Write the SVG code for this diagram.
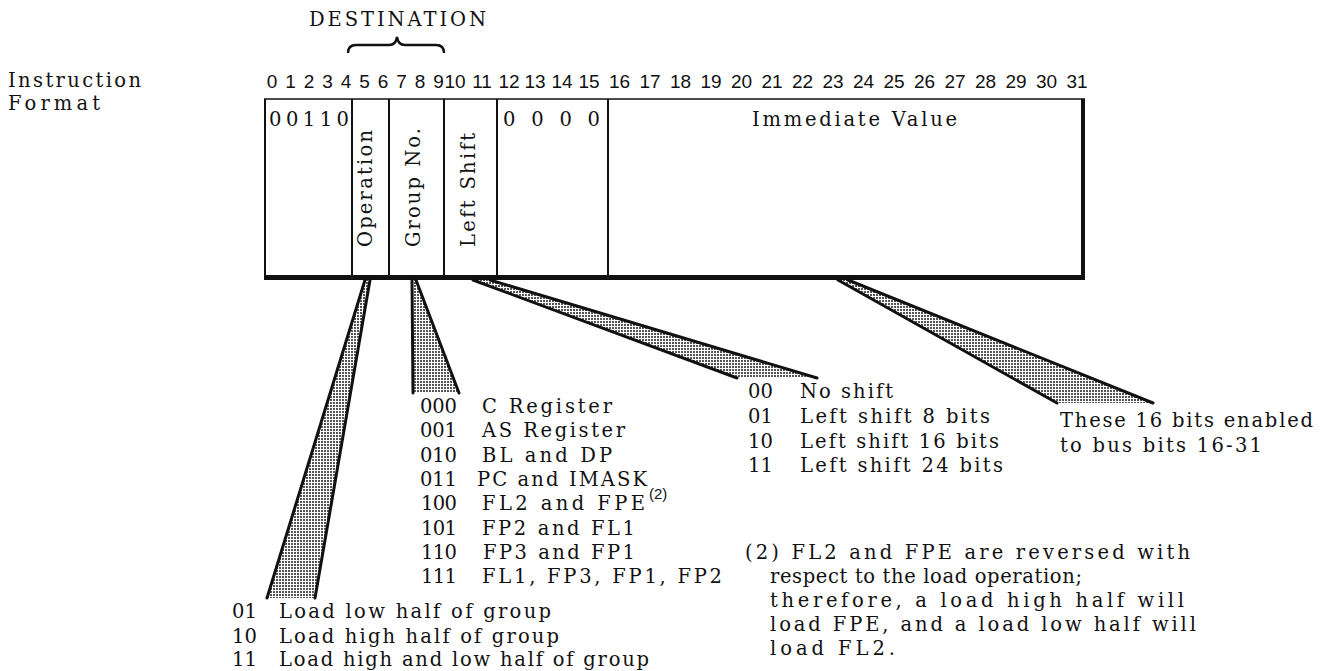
<svg xmlns="http://www.w3.org/2000/svg" width="1330" height="671" viewBox="0 0 1330 671">
<style>
.t{font-family:"DejaVu Serif","Liberation Serif",serif;font-size:19.5px;fill:#111}
.n{font-family:"Liberation Sans",Arial,sans-serif;font-size:19px;fill:#111;text-anchor:middle}
.s{font-family:"Liberation Sans",Arial,sans-serif;font-size:15px;fill:#111}
.ln{stroke:#111;fill:none}
.edge{stroke:#111;stroke-width:3;fill:none;stroke-linecap:round}
.w{fill:url(#dots);stroke:none}
</style>
<defs>
<pattern id="dots" width="3" height="3" patternUnits="userSpaceOnUse">
<rect width="3" height="3" fill="#fff"/>
<rect width="2" height="2" fill="#555"/>
</pattern>
</defs>
<rect width="1330" height="671" fill="#fff"/>

<g id="destination">
<text class="t" x="309" y="26" font-size="20.5" textLength="177" lengthAdjust="spacing">DESTINATION</text>
<path class="ln" stroke-width="2.5" d="M348,53 Q348,45 356,45 L389,45 Q396,45 397,37 Q398,45 405,45 L436,45 Q444,45 444,53"/>
</g>

<g id="label">
<text class="t" x="8" y="87" textLength="133" lengthAdjust="spacing">Instruction</text>
<text class="t" x="8" y="110" textLength="92" lengthAdjust="spacing">Format</text>
</g>

<g id="bitnumbers">
<text class="n" y="88"><tspan x="272">0</tspan><tspan x="290.5">1</tspan><tspan x="309">2</tspan><tspan x="327.5">3</tspan><tspan x="346">4</tspan><tspan x="364.5">5</tspan><tspan x="383">6</tspan><tspan x="401.5">7</tspan><tspan x="420">8</tspan><tspan x="438.5">9</tspan><tspan x="455">10</tspan><tspan x="482">11</tspan><tspan x="509">12</tspan><tspan x="535">13</tspan><tspan x="562">14</tspan><tspan x="589">15</tspan><tspan x="619.5">16</tspan><tspan x="650">17</tspan><tspan x="680.5">18</tspan><tspan x="711">19</tspan><tspan x="741.5">20</tspan><tspan x="772">21</tspan><tspan x="802.5">22</tspan><tspan x="833">23</tspan><tspan x="863.5">24</tspan><tspan x="894">25</tspan><tspan x="924.5">26</tspan><tspan x="955">27</tspan><tspan x="985.5">28</tspan><tspan x="1016">29</tspan><tspan x="1046.5">30</tspan><tspan x="1077">31</tspan></text>
</g>

<g id="format-box">
<line class="ln" stroke-width="1.5" x1="264" y1="99" x2="1085" y2="99"/>
<line class="ln" stroke-width="2" x1="265" y1="99" x2="265" y2="278"/>
<line class="ln" stroke-width="4" x1="1083" y1="99" x2="1083" y2="278"/>
<rect x="264" y="275" width="821" height="5" fill="#111"/>
<line class="ln" stroke-width="2" x1="352" y1="99" x2="352" y2="277"/>
<line class="ln" stroke-width="2" x1="389" y1="99" x2="389" y2="277"/>
<line class="ln" stroke-width="2" x1="444" y1="99" x2="444" y2="277"/>
<line class="ln" stroke-width="2" x1="497" y1="99" x2="497" y2="277"/>
<line class="ln" stroke-width="2" x1="608" y1="99" x2="608" y2="277"/>
</g>

<g id="field-opcode">
<text class="t" x="269" y="126" textLength="80" lengthAdjust="spacing">00110</text>
</g>
<g id="field-operation">
<text class="t" transform="translate(372,247) rotate(-90)" x="0" y="0" textLength="117" lengthAdjust="spacing">Operation</text>
</g>
<g id="field-group">
<text class="t" transform="translate(420,247) rotate(-90)" x="0" y="0" textLength="119" lengthAdjust="spacing">Group No.</text>
</g>
<g id="field-leftshift">
<text class="t" transform="translate(475,247) rotate(-90)" x="0" y="0" textLength="114" lengthAdjust="spacing">Left Shift</text>
</g>
<g id="field-zero">
<text class="t" x="503" y="126" textLength="97" lengthAdjust="spacing">0 0 0 0</text>
</g>
<g id="field-immediate">
<text class="t" x="752" y="126" textLength="205" lengthAdjust="spacing">Immediate Value</text>
</g>

<g id="connectors">
<polygon class="w" points="365,280 370,280 315,598 267,598"/>
<line class="edge" x1="365" y1="280" x2="267" y2="598"/>
<line class="edge" x1="370" y1="280" x2="315" y2="598"/>
<polygon class="w" points="412,280 416,280 459,393 413,393"/>
<line class="edge" x1="412" y1="280" x2="413" y2="393"/>
<line class="edge" x1="416" y1="280" x2="459" y2="393"/>
<polygon class="w" points="473,280 490,280 817,378 737,378"/>
<line class="edge" x1="473" y1="280" x2="737" y2="378"/>
<line class="edge" stroke-width="2.5" x1="490" y1="280" x2="817" y2="378"/>
<polygon class="w" points="838,280 848,280 1153,403 1057,403"/>
<line class="edge" x1="838" y1="280" x2="1057" y2="403"/>
<line class="edge" stroke-width="2.5" x1="848" y1="280" x2="1153" y2="403"/>
</g>

<g id="operation-list">
<text class="t" x="232" y="618" textLength="25" lengthAdjust="spacing">01</text>
<text class="t" x="279" y="618" textLength="272" lengthAdjust="spacing">Load low half of group</text>
<text class="t" x="232" y="643" textLength="25" lengthAdjust="spacing">10</text>
<text class="t" x="279" y="643" textLength="280" lengthAdjust="spacing">Load high half of group</text>
<text class="t" x="232" y="666" textLength="25" lengthAdjust="spacing">11</text>
<text class="t" x="279" y="666" textLength="370" lengthAdjust="spacing">Load high and low half of group</text>
</g>

<g id="group-list">
<text class="t" x="420" y="413" textLength="37" lengthAdjust="spacing">000</text>
<text class="t" x="482" y="413" textLength="130" lengthAdjust="spacing">C Register</text>
<text class="t" x="420" y="437" textLength="37" lengthAdjust="spacing">001</text>
<text class="t" x="482" y="437" textLength="143" lengthAdjust="spacing">AS Register</text>
<text class="t" x="420" y="462" textLength="37" lengthAdjust="spacing">010</text>
<text class="t" x="482" y="462" textLength="130" lengthAdjust="spacing">BL and DP</text>
<text class="t" x="420" y="486" textLength="37" lengthAdjust="spacing">011</text>
<text class="t" x="477" y="486" textLength="170" lengthAdjust="spacing">PC and IMASK</text>
<text class="t" x="421" y="510" textLength="36" lengthAdjust="spacing">100</text>
<text class="t" x="482" y="510" textLength="163" lengthAdjust="spacing">FL2 and FPE</text>
<text class="s" x="649" y="499">(2)</text>
<text class="t" x="421" y="535" textLength="36" lengthAdjust="spacing">101</text>
<text class="t" x="482" y="535" textLength="153" lengthAdjust="spacing">FP2 and FL1</text>
<text class="t" x="421" y="559" textLength="36" lengthAdjust="spacing">110</text>
<text class="t" x="483" y="559" textLength="152" lengthAdjust="spacing">FP3 and FP1</text>
<text class="t" x="421" y="583" textLength="36" lengthAdjust="spacing">111</text>
<text class="t" x="482" y="583" textLength="240" lengthAdjust="spacing">FL1, FP3, FP1, FP2</text>
</g>

<g id="shift-list">
<text class="t" x="748" y="398" textLength="25" lengthAdjust="spacing">00</text>
<text class="t" x="800" y="398" textLength="93" lengthAdjust="spacing">No shift</text>
<text class="t" x="748" y="423" textLength="25" lengthAdjust="spacing">01</text>
<text class="t" x="800" y="423" textLength="190" lengthAdjust="spacing">Left shift 8 bits</text>
<text class="t" x="748" y="448" textLength="25" lengthAdjust="spacing">10</text>
<text class="t" x="800" y="448" textLength="199" lengthAdjust="spacing">Left shift 16 bits</text>
<text class="t" x="748" y="472" textLength="25" lengthAdjust="spacing">11</text>
<text class="t" x="800" y="472" textLength="203" lengthAdjust="spacing">Left shift 24 bits</text>
</g>

<g id="immediate-note">
<text class="t" x="1060" y="427" textLength="253" lengthAdjust="spacing">These 16 bits enabled</text>
<text class="t" x="1060" y="452" textLength="202" lengthAdjust="spacing">to bus bits 16-31</text>
</g>

<g id="footnote">
<text class="t" x="745" y="559" textLength="445" lengthAdjust="spacing">(2) FL2 and FPE are reversed with</text>
<text class="t" x="770" y="583" textLength="312" lengthAdjust="spacing">respect to the load operation;</text>
<text class="t" x="770" y="607" textLength="414" lengthAdjust="spacing">therefore, a load high half will</text>
<text class="t" x="770" y="631" textLength="426" lengthAdjust="spacing">load FPE, and a load low half will</text>
<text class="t" x="770" y="655" textLength="125" lengthAdjust="spacing">load FL2.</text>
</g>
</svg>
